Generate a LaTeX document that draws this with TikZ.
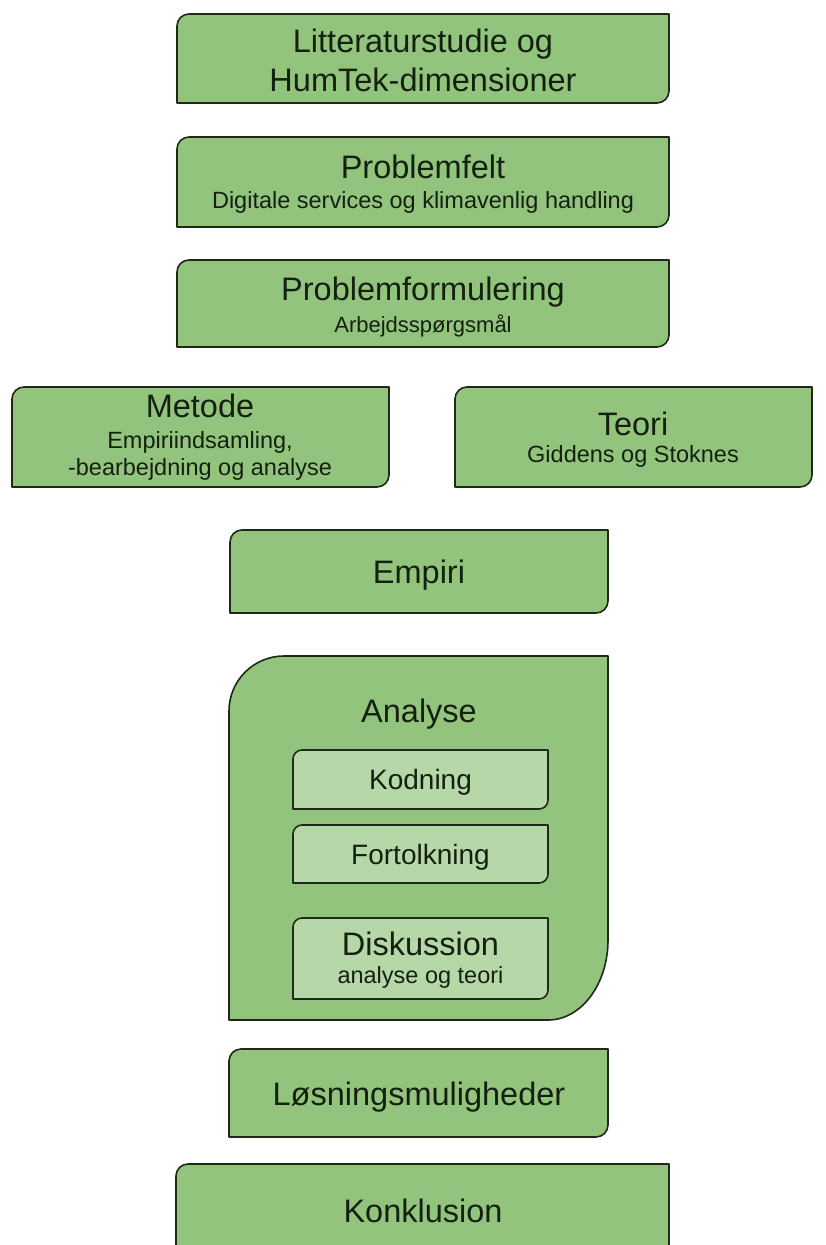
\documentclass[tikz,border=0pt]{standalone}
\usepackage{fontspec}
\setmainfont{Liberation Sans}
\definecolor{gfill}{HTML}{93C47D}
\definecolor{ifill}{HTML}{B6D7A8}
\definecolor{bordercol}{HTML}{1E2A17}
\definecolor{txtcol}{HTML}{142010}
\tikzset{
  gshape/.style={draw=bordercol, line width=1.6pt, fill=gfill, line join=round},
  ishape/.style={gshape, fill=ifill},
  ttl/.style={anchor=base, inner sep=0pt, text=txtcol, font=\fontsize{32.5}{38}\selectfont},
  midt/.style={anchor=base, inner sep=0pt, text=txtcol, font=\fontsize{28}{33}\selectfont},
  subt/.style={anchor=base, inner sep=0pt, text=txtcol, font=\fontsize{23.5}{28}\selectfont},
  smallt/.style={anchor=base, inner sep=0pt, text=txtcol, font=\fontsize{22}{26}\selectfont}
}
% #1 style, #2 x1, #3 y1, #4 x2, #5 y2, #6 top-left radius, #7/#8 bottom-right x/y radius
\newcommand\gbox[8]{%
  \path[#1] (#2,#3+#6) arc[start angle=180,end angle=270,radius=#6]
    -- (#4,#3) -- (#4,#5-#8)
    arc[start angle=0,end angle=90,x radius=#7,y radius=#8]
    -- (#2,#5) -- cycle;}
\begin{document}
\begin{tikzpicture}[x=1pt,y=-1pt]
\useasboundingbox (0,0) rectangle (825,1245);
\clip (0,0) rectangle (825,1245);
\fill[white] (0,0) rectangle (825,1245);

% shapes
\gbox{gshape}{177}{14}{669}{103}{12}{12}{12}
\gbox{gshape}{177}{137}{669}{227}{12}{12}{12}
\gbox{gshape}{177}{260}{669}{347}{12}{12}{12}
\gbox{gshape}{12}{387}{389}{487}{12}{12}{12}
\gbox{gshape}{455}{387}{812}{487}{12}{12}{12}
\gbox{gshape}{230}{530}{608}{613}{12}{12}{12}
\gbox{gshape}{229}{656}{608}{1020}{55}{60}{80}
\gbox{ishape}{293}{750}{548}{809}{9}{9}{9}
\gbox{ishape}{293}{825}{548}{883}{9}{9}{9}
\gbox{ishape}{293}{918}{548}{999}{9}{9}{9}
\gbox{gshape}{229}{1049}{608}{1137}{12}{12}{12}
\gbox{gshape}{176}{1164}{669}{1275}{12}{12}{12}

% texts
\node[ttl] (lit1) at (423,52) {Litteraturstudie og};
\node[ttl] (lit2) at (423,91) {HumTek-dimensioner};
\node[ttl] (pf) at (423,178) {Problemfelt};
\node[subt] (pfs) at (423,208) {Digitale services og klimavenlig handling};
\node[ttl] (pform) at (423,300) {Problemformulering};
\node[smallt] (pforms) at (423,332) {Arbejdsspørgsmål};
\node[ttl] (met) at (200,417) {Metode};
\node[subt] (met1) at (200,448) {Empiriindsamling,};
\node[subt] (met2) at (200,475) {-bearbejdning og analyse};
\node[ttl] (teo) at (633,435) {Teori};
\node[subt] (teos) at (633,462) {Giddens og Stoknes};
\node[ttl] (emp) at (419,583) {Empiri};
\node[ttl] (ana) at (419,722) {Analyse};
\node[midt] (kod) at (420.5,789) {Kodning};
\node[midt] (fort) at (420.5,864) {Fortolkning};
\node[ttl] (disk) at (420.5,955) {Diskussion};
\node[subt] (disks) at (420.5,983) {analyse og teori};
\node[ttl] (los) at (419,1105) {Løsningsmuligheder};
\node[ttl] (konk) at (423,1222) {Konklusion};
\end{tikzpicture}
\end{document}
